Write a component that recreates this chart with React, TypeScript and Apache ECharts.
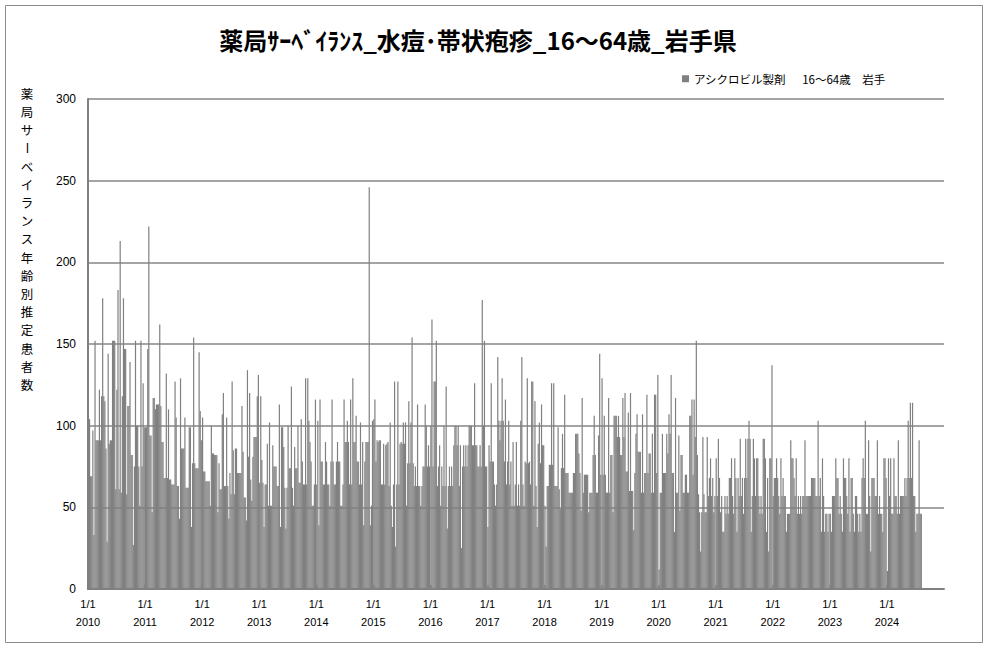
import { useEffect, useRef } from 'react';
import * as echarts from 'echarts';

const TITLE = '薬局ｻｰﾍﾞｲﾗﾝｽ_水痘･帯状疱疹_16～64歳_岩手県';
const SERIES_NAME = 'アシクロビル製剤　  16～64歳　岩手';
const Y_NAME_TOP = '薬局サ';
const Y_NAME_BAR = 'ー';
const Y_NAME_REST = 'ベイランス年齢別推定患者数';
const START_YEAR = 2010;
const END_YEAR = 2025;

// weekly estimated patients (one value per week)
const y2010 = [104,104,69,69,97,33,152,91,91,91,122,91,118,178,118,115,86,29,144,89,91,91,152,152,152,61,122,183,61,213,59,118,178,147,147,58,112,112,139,82,82,27,75,152,100,100,75,51,152,75,126,99];
const y2011 = [99,99,147,222,94,94,47,117,117,110,113,113,113,162,112,90,90,68,68,132,68,110,67,67,64,64,64,127,105,63,63,43,129,86,86,86,105,62,62,62,99,99,38,77,154,77,74,74,74,145,109,91];
const y2012 = [105,72,72,66,66,66,66,51,100,83,83,82,82,82,47,77,61,61,107,120,63,63,105,63,43,71,58,127,85,58,86,86,71,71,71,71,112,84,56,56,42,134,81,120,67,54,81,93,93,93,118,131];
const y2013 = [65,118,79,65,38,64,64,89,51,102,51,51,88,75,75,75,63,63,113,38,99,99,87,62,37,62,100,74,74,124,62,51,87,74,74,100,65,65,104,78,64,64,129,64,129,103,90,78,51,51,64,116];
const y2014 = [64,103,39,116,78,78,64,64,90,78,64,64,51,78,116,78,64,64,78,90,78,78,51,51,64,116,90,90,103,90,64,116,64,129,90,90,106,78,78,64,102,64,90,39,78,90,90,90,246,39,51,103];
const y2015 = [104,116,78,91,90,91,91,64,64,89,64,88,89,90,63,102,51,38,64,127,26,64,127,64,89,90,89,102,89,102,51,77,115,77,102,154,77,63,75,63,113,63,63,51,63,75,75,113,100,75,88,75];
const y2016 = [100,165,75,127,127,152,63,75,88,51,75,63,100,63,124,37,63,75,63,75,63,88,100,100,88,100,63,88,25,75,88,75,88,75,88,100,100,100,88,88,126,88,88,75,75,88,75,177,100,152,75,75];
const y2017 = [38,88,78,126,78,78,64,51,64,142,103,91,103,129,103,78,116,64,78,103,64,78,51,90,51,64,90,51,64,51,103,142,64,51,78,77,129,77,78,64,127,127,51,115,63,38,89,102,77,113,88,88];
const y2018 = [51,26,63,63,76,76,126,76,126,63,63,63,99,61,49,74,95,74,119,71,71,71,59,59,59,59,71,71,95,95,95,83,71,48,117,59,70,70,70,70,47,59,59,59,82,106,82,59,59,94,144,70];
const y2019 = [129,70,106,70,59,59,117,59,82,82,47,106,106,106,93,106,93,82,82,117,93,120,72,72,108,60,120,60,60,36,71,95,107,84,84,84,59,107,59,71,71,119,71,83,83,59,95,59,119,119,71,131];
const y2020 = [12,59,59,95,71,71,71,95,83,107,95,131,71,71,35,117,59,59,94,48,82,82,59,59,70,70,59,59,106,106,116,70,116,93,152,82,58,47,23,47,93,58,47,47,93,57,68,80,57,68,47,57];
const y2021 = [80,57,92,68,47,57,35,35,57,46,57,46,68,68,80,57,46,80,68,35,68,57,92,57,68,46,68,92,68,92,103,92,35,57,92,80,57,80,80,57,46,57,46,92,92,80,35,68,23,80,80,137];
const y2022 = [57,68,68,80,68,57,46,80,57,68,57,57,35,46,46,46,91,80,80,68,57,80,46,57,46,57,46,57,57,91,57,57,57,57,57,68,68,68,68,57,57,103,57,68,35,80,57,35,46,46,35,46];
const y2023 = [46,35,57,57,57,80,68,68,46,57,46,35,80,68,68,57,46,80,35,68,68,46,35,57,57,46,35,46,35,68,80,68,103,46,46,91,57,23,68,68,68,57,57,91,46,57,46,46,35,80,80,68];
const y2024 = [11,80,57,80,46,46,80,57,57,46,91,46,57,57,57,57,68,57,68,103,68,114,68,114,57,57,35,46,46,91,46,46];

const YEAR_SERIES: [number, number[]][] = [
  [2010, y2010], [2011, y2011], [2012, y2012], [2013, y2013], [2014, y2014],
  [2015, y2015], [2016, y2016], [2017, y2017], [2018, y2018], [2019, y2019],
  [2020, y2020], [2021, y2021], [2022, y2022], [2023, y2023], [2024, y2024],
];

const barData = YEAR_SERIES.flatMap(([yr, arr]) =>
  arr.map((v, i) => [yr - START_YEAR + (i * 7 + 3) / 365.25, v])
);

const JP = '"Noto Sans CJK JP", "Noto Sans", sans-serif';
const NUM = '"Liberation Sans", Arial, sans-serif';
const GRAY = '#808080';
const PITCH = 18.2;

export default function App() {
  const ref = useRef<HTMLDivElement>(null);
  useEffect(() => {
    if (!ref.current) return;
    const chart = echarts.init(ref.current, null, { renderer: 'svg' });
    const nameStyle = { fontSize: 12.5, lineHeight: PITCH, fontFamily: JP, fill: '#000', align: 'center', verticalAlign: 'top' };
    chart.setOption({
      animation: false,
      backgroundColor: '#ffffff',
      title: {
        text: TITLE,
        left: 478,
        top: 27,
        padding: 0,
        textAlign: 'center',
        textStyle: { fontSize: 24, fontWeight: 'bold', fontFamily: JP, color: '#000' },
      },
      legend: {
        left: 682,
        top: 73,
        padding: 0,
        itemWidth: 7,
        itemHeight: 7,
        icon: 'rect',
        data: [SERIES_NAME],
        textStyle: { fontSize: 11.5, fontFamily: JP, color: '#000' },
      },
      grid: { left: 88, right: 43, top: 99, bottom: 59, containLabel: false },
      xAxis: {
        type: 'value',
        min: 0,
        max: END_YEAR - START_YEAR,
        interval: 1,
        axisLine: { show: true, lineStyle: { color: GRAY, width: 2 } },
        axisTick: { show: true, inside: true, length: 4, lineStyle: { color: GRAY, width: 1.5 } },
        splitLine: { show: false },
        axisLabel: {
          showMaxLabel: false,
          margin: 6,
          fontSize: 11,
          lineHeight: 18,
          fontFamily: NUM,
          color: '#000',
          formatter: (v: number) => `1/1\n${START_YEAR + Math.round(v)}`,
        },
      },
      yAxis: {
        type: 'value',
        min: 0,
        max: 300,
        interval: 50,
        axisLine: { show: true, lineStyle: { color: GRAY, width: 2 } },
        axisTick: { show: false },
        splitLine: { show: true, lineStyle: { color: '#868686', width: 1.7 } },
        axisLabel: { margin: 12, fontSize: 12, fontFamily: NUM, color: '#000' },
      },
      series: [
        {
          name: SERIES_NAME,
          type: 'bar',
          data: barData,
          barWidth: 1.2,
          itemStyle: { color: GRAY },
          emphasis: { disabled: true },
          large: false,
        },
      ],
      graphic: [
        {
          type: 'rect',
          shape: { x: 5.5, y: 5.5, width: 977, height: 637 },
          style: { fill: 'none', stroke: '#8c8c8c', lineWidth: 1 },
          silent: true,
        },
        { type: 'text', x: 27, y: 84.2, style: { ...nameStyle, text: Y_NAME_TOP.split('').join('\n') } },
        {
          type: 'text', x: 27, y: 84.2 + 3 * PITCH + PITCH / 2, rotation: -Math.PI / 2,
          style: { ...nameStyle, verticalAlign: 'middle', text: Y_NAME_BAR },
        },
        { type: 'text', x: 27, y: 84.2 + 4 * PITCH, style: { ...nameStyle, text: Y_NAME_REST.split('').join('\n') } },
      ],
    });
    return () => chart.dispose();
  }, []);
  return (
    <div
      ref={ref}
      style={{ position: 'fixed', left: 0, top: 0, width: 987, height: 648, background: '#fff' }}
    />
  );
}
